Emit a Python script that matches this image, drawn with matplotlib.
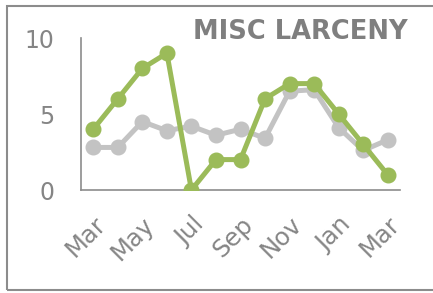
import matplotlib.pyplot as plt
from matplotlib.patches import Rectangle

# Data
months = ['Mar', 'Apr', 'May', 'Jun', 'Jul', 'Aug', 'Sep', 'Oct', 'Nov', 'Dec', 'Jan', 'Feb', 'Mar']
green_vals = [4, 6, 8, 9, 0, 2, 2, 6, 7, 7, 5, 3, 1]
gray_vals = [2.8, 2.8, 4.5, 3.9, 4.2, 3.6, 4.0, 3.4, 6.5, 6.6, 4.1, 2.6, 3.3]
y_ticks = [0, 5, 10]

green = '#9bbb59'
light_gray = '#c3c3c3'
text_gray = '#858585'

fig = plt.figure(figsize=(4.33, 2.93), dpi=100)
ax = fig.add_axes([81 / 433, 1 - 190 / 293, (400 - 81) / 433, (190 - 38) / 293])

x = list(range(len(months)))
ax.plot(x, gray_vals, color=light_gray, lw=3.6, marker='o', ms=10.5, zorder=2)
ax.plot(x, green_vals, color=green, lw=3.6, marker='o', ms=10.5, zorder=3)

ax.set_xlim(-0.5, len(months) - 0.5)
ax.set_ylim(0, 10)
ax.set_yticks(y_ticks)
ax.set_yticklabels([str(v) for v in y_ticks], fontsize=17)
ax.set_xticks(x[::2])
ax.set_xticklabels(months[::2], rotation=45, ha='right', va='top', rotation_mode='anchor',
                   fontsize=17.5)

ax.tick_params(axis='both', length=0, colors=text_gray)
ax.tick_params(axis='y', pad=19)
ax.tick_params(axis='x', pad=16)

for side in ['top', 'right']:
    ax.spines[side].set_visible(False)
for side in ['left', 'bottom']:
    ax.spines[side].set_color('#8c8c8c')
    ax.spines[side].set_linewidth(1.2)
for t in ax.get_xticklabels():
    t.set_clip_on(False)

# Title
fig.text(408 / 433, 1 - 32 / 293, 'MISC LARCENY', ha='right', va='center',
         fontsize=18.5, fontweight='bold', color='#7f7f7f')

# Border around chart
fig.patches.append(Rectangle((7 / 433, 3 / 293), 1.05, 284 / 293, transform=fig.transFigure,
                             fill=False, edgecolor='#8c8c8c', lw=1.5))

fig.savefig('out.png', dpi=100)
